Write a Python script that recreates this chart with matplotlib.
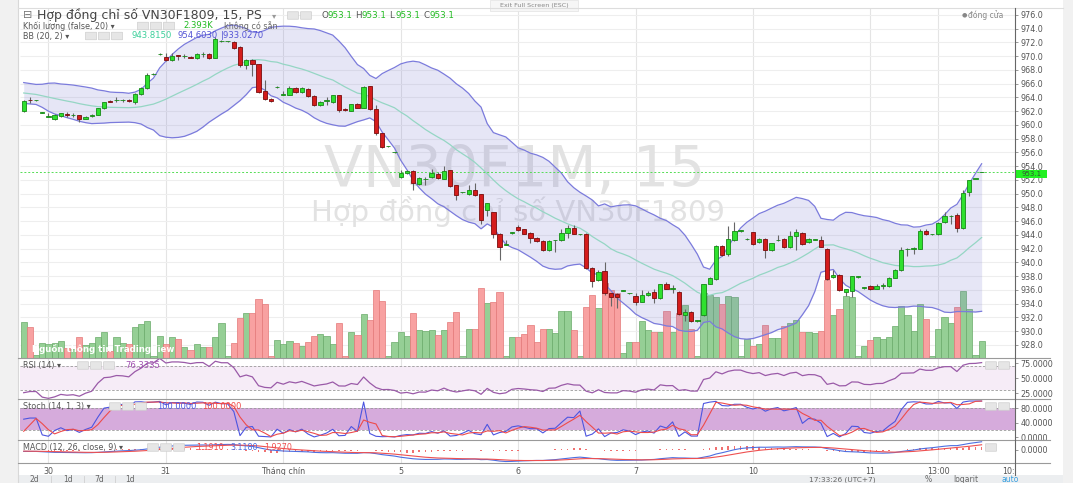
import matplotlib
matplotlib.use('Agg')
import matplotlib.pyplot as plt
from matplotlib.lines import Line2D
from matplotlib.patches import Rectangle, FancyBboxPatch
import numpy as np
import pandas as pd

plt.rcParams['font.family'] = ['DejaVu Sans']

W, H = 1073, 483

# closes of the session before the visible window (only used to warm up BB / RSI / MACD / Stoch)
prev_closes = [965.8, 965.6, 965.9, 965.4, 965.2, 965.5, 965.0, 964.8, 965.1, 964.6,
               964.4, 964.7, 964.2, 964.5, 964.0, 963.8, 964.1, 963.6, 963.4]

# 15-minute bars, VN30F1809
opens = [962.1, 963.7, 963.6, 961.8, 961.2, 960.8, 961.3, 961.6, 961.4, 961.4,
         960.9, 961.3, 961.45, 962.4, 963.5, 963.6, 963.6, 963.7, 963.4, 964.5,
         965.4, 967.4, 970.3, 969.9, 969.4, 970.15, 970.0, 969.9, 969.7, 970.3,
         970.3, 969.8, 972.2, 972.2, 972.1, 971.4, 968.7, 969.5, 968.8, 965.0,
         963.8, 965.5, 964.4, 964.4, 965.4, 964.8, 965.3, 964.2, 962.9, 963.55,
         963.3, 964.3, 962.3, 962.1, 963.0, 962.5, 965.6, 962.3, 958.8, 956.9,
         956.0, 952.4, 953.0, 953.3, 951.4, 952.1, 952.4, 952.9, 952.2, 953.4,
         951.2, 950.2, 949.9, 950.6, 949.9, 947.7, 947.3, 944.2, 942.6, 944.3,
         945.2, 944.8, 944.3, 943.6, 943.1, 941.8, 943.2, 943.2, 944.3, 945.0,
         944.1, 944.2, 939.2, 937.5, 938.8, 935.5, 935.4, 935.9, 935.5, 935.1,
         934.3, 935.2, 935.7, 934.8, 936.8, 936.2, 935.7, 932.3, 932.8, 931.5,
         932.4, 936.9, 937.6, 942.4, 941.2, 943.2, 944.6, 943.4, 944.4, 943.0,
         943.4, 941.8, 943.2, 943.4, 942.2, 943.9, 944.3, 943.0, 943.3, 943.3,
         942.0, 937.9, 938.2, 935.7, 935.9, 937.9, 936.3, 936.6, 936.2, 936.6,
         936.6, 937.8, 938.9, 941.9, 942.0, 942.0, 944.6, 944.1, 944.1, 945.9,
         946.7, 946.9, 945.0, 950.2, 952.2, 953.1]
highs = [963.7, 964.0, 963.7, 961.9, 961.7, 961.6, 961.8, 961.9, 961.75, 961.5,
         961.3, 961.6, 962.5, 963.4, 963.6, 964.0, 963.8, 963.8, 964.6, 965.5,
         967.6, 967.5, 970.4, 970.4, 970.5, 970.2, 970.3, 970.0, 970.4, 970.6,
         970.4, 972.8, 972.3, 972.2, 972.2, 971.5, 969.6, 969.6, 968.9, 966.6,
         963.9, 965.6, 964.9, 965.6, 965.5, 965.5, 965.4, 964.3, 963.5, 964.1,
         964.4, 964.4, 962.4, 963.1, 963.2, 965.6, 965.7, 962.9, 958.9, 957.0,
         956.1, 953.4, 953.4, 953.4, 952.4, 952.4, 953.6, 953.1, 954.0, 953.5,
         951.3, 950.3, 951.2, 951.6, 950.0, 948.7, 947.4, 944.3, 943.2, 944.4,
         945.5, 944.9, 944.4, 943.7, 943.2, 943.2, 943.3, 944.8, 945.5, 945.5,
         944.2, 944.3, 939.3, 938.9, 940.1, 935.6, 935.5, 936.0, 935.6, 935.6,
         936.0, 935.8, 936.1, 936.9, 937.2, 936.7, 935.8, 933.3, 932.9, 931.6,
         936.9, 937.9, 942.5, 942.5, 945.3, 945.9, 944.7, 943.5, 944.5, 943.5,
         943.5, 942.9, 944.0, 943.5, 944.6, 944.8, 944.4, 943.5, 943.4, 943.9,
         942.1, 938.9, 938.3, 936.2, 938.1, 938.0, 936.4, 936.7, 936.8, 937.0,
         937.9, 939.0, 942.2, 942.1, 942.2, 944.9, 944.9, 944.2, 945.9, 947.3,
         946.9, 947.2, 950.5, 952.0, 952.2, 953.1]
lows = [961.9, 963.2, 963.5, 961.7, 961.2, 960.7, 961.2, 961.1, 961.1, 960.4,
        960.8, 961.1, 961.4, 962.3, 963.3, 963.3, 963.4, 963.4, 963.0, 964.4,
        965.2, 967.3, 970.2, 969.3, 969.3, 969.4, 969.7, 969.7, 969.6, 969.9,
        969.6, 969.7, 972.1, 972.1, 971.1, 968.5, 968.1, 967.1, 964.6, 963.6,
        963.4, 965.4, 964.3, 964.3, 964.7, 964.7, 964.1, 962.8, 962.8, 962.9,
        963.2, 961.9, 962.1, 962.0, 962.4, 962.4, 962.2, 958.6, 956.7, 956.8,
        955.9, 952.3, 952.9, 950.6, 951.2, 951.3, 952.3, 952.2, 952.1, 951.0,
        949.1, 950.1, 949.8, 949.7, 945.6, 946.8, 943.5, 940.4, 942.5, 944.2,
        944.6, 944.1, 942.9, 943.0, 941.6, 941.7, 941.5, 943.1, 943.6, 944.1,
        944.0, 939.0, 936.5, 937.3, 935.3, 933.6, 933.4, 935.8, 935.4, 933.8,
        934.2, 935.1, 934.1, 934.7, 936.1, 935.5, 932.3, 931.5, 931.3, 931.4,
        932.2, 936.8, 937.5, 940.9, 941.0, 943.1, 944.5, 943.3, 942.6, 942.9,
        940.7, 941.7, 943.1, 942.1, 942.1, 941.8, 942.6, 942.9, 943.2, 942.2,
        937.4, 937.8, 935.9, 935.1, 935.0, 937.8, 936.2, 936.0, 936.1, 936.2,
        936.5, 937.7, 938.8, 941.0, 941.2, 941.9, 944.0, 944.0, 944.0, 945.8,
        945.6, 944.4, 944.9, 949.6, 952.2, 953.1]
closes = [963.5, 963.6, 963.6, 961.9, 961.3, 961.45, 961.7, 961.4, 961.45, 960.9,
          961.2, 961.4, 962.4, 963.3, 963.4, 963.7, 963.65, 963.5, 964.5, 965.4,
          967.3, 967.4, 970.3, 969.4, 970.1, 970.1, 970.0, 969.8, 970.3, 970.35,
          969.7, 972.5, 972.2, 972.2, 971.2, 968.7, 969.4, 968.8, 964.85, 963.8,
          963.5, 965.5, 964.45, 965.4, 964.8, 965.4, 964.2, 962.9, 963.3, 963.6,
          964.3, 962.2, 962.15, 963.0, 962.5, 965.5, 962.3, 958.8, 956.85, 956.9,
          956.0, 953.0, 953.3, 951.6, 952.3, 952.2, 953.0, 952.3, 953.3, 951.1,
          949.8, 950.2, 950.6, 949.8, 946.2, 948.6, 944.2, 942.2, 942.6, 944.3,
          944.7, 944.2, 943.5, 943.1, 941.75, 943.1, 943.2, 944.3, 945.0, 944.2,
          944.1, 939.2, 937.3, 938.6, 935.5, 935.0, 935.0, 935.9, 935.5, 934.3,
          935.2, 935.5, 934.8, 936.8, 936.2, 936.25, 932.5, 932.8, 931.5, 931.5,
          936.8, 937.7, 942.4, 941.1, 943.4, 944.6, 944.6, 943.4, 942.7, 943.4,
          941.8, 942.8, 943.3, 942.2, 943.8, 944.4, 942.7, 943.4, 943.3, 942.3,
          937.55, 938.2, 936.0, 936.1, 938.0, 937.9, 936.3, 936.1, 936.6, 936.65,
          937.8, 938.9, 941.8, 941.95, 942.05, 944.6, 944.1, 944.1, 945.8, 946.7,
          946.75, 945.0, 950.1, 952.0, 952.2, 953.1]
# volume, thousand contracts
volumes = [5.1, 4.3, 0.3, 2.05, 1.9, 2.05, 2.3, 1.4, 1.2, 2.9,
           1.8, 2.05, 3.0, 3.6, 0.9, 3.0, 2.1, 1.9, 4.4, 4.8,
           5.2, 0.2, 3.1, 2.0, 3.0, 2.6, 1.5, 1.05, 1.9, 1.5,
           1.5, 3.0, 4.9, 0.2, 2.1, 5.7, 6.3, 6.3, 8.4, 7.6,
           0.25, 2.5, 1.9, 2.3, 2.1, 1.7, 2.2, 3.1, 3.3, 3.1,
           1.9, 4.9, 0.2, 3.6, 3.2, 6.2, 5.3, 9.6, 8.1, 0.2,
           2.2, 3.7, 3.05, 6.4, 4.0, 3.8, 3.9, 3.2, 4.0, 5.1,
           6.5, 0.2, 4.1, 4.1, 9.9, 7.8, 7.9, 9.4, 0.2, 2.9,
           3.0, 3.4, 4.6, 2.2, 4.1, 4.05, 3.5, 6.7, 6.7, 4.0,
           0.2, 7.2, 9.0, 7.1, 10.6, 9.6, 9.2, 0.6, 2.2, 2.2,
           5.2, 4.0, 3.6, 3.6, 6.7, 3.7, 6.3, 7.5, 4.1, 0.2,
           9.2, 8.9, 8.6, 7.7, 8.8, 8.6, 0.2, 2.6, 1.6, 1.9,
           4.6, 2.8, 2.8, 4.5, 4.9, 5.3, 3.7, 3.7, 3.5, 3.8,
           11.1, 6.1, 6.9, 8.8, 8.6, 0.2, 1.6, 2.5, 3.0, 2.6,
           2.9, 4.5, 7.3, 6.1, 3.8, 7.7, 5.5, 0.2, 4.1, 5.8,
           5.0, 7.2, 9.5, 7.0, 0.3, 2.393]

# time axis: bar index of each label
time_ticks = [4, 23, 42, 61, 80, 99, 118, 137, 148, 159.3]
time_labels = ['30', '31', 'Tháng chín', '5', '6', '7', '10', '11', '13:00', '10:']
price_ticks = np.arange(928, 977, 2)

# indicator values as printed in the legends
bb_values = ['943.8150', '954.6030', '933.0270']
rsi_value = '76.3335'
stoch_values = ['100.0000', '100.0000']
macd_values = ['1.1910', '3.1180', '1.9270']

# ---- indicators ----
n_prev = len(prev_closes)
c_all = pd.Series(prev_closes + closes)
h_all = pd.Series(prev_closes + highs)
l_all = pd.Series(prev_closes + lows)

bb_mid = c_all.rolling(20).mean()
bb_sd = c_all.rolling(20).std(ddof=0)
bb_up = (bb_mid + 2 * bb_sd).values[n_prev:]
bb_lo = (bb_mid - 2 * bb_sd).values[n_prev:]
bb_mid = bb_mid.values[n_prev:]

delta = c_all.diff()
gain = delta.clip(lower=0).ewm(alpha=1 / 14, adjust=False).mean()
loss = (-delta.clip(upper=0)).ewm(alpha=1 / 14, adjust=False).mean()
rsi = (100 - 100 / (1 + gain / loss)).values[n_prev:]

hh = h_all.rolling(14, min_periods=1).max()
ll = l_all.rolling(14, min_periods=1).min()
stoch_k = 100 * (c_all - ll) / (hh - ll)
stoch_d = stoch_k.rolling(3, min_periods=1).mean()
stoch_k = stoch_k.values[n_prev:]
stoch_d = stoch_d.values[n_prev:]

macd = c_all.ewm(span=12, adjust=False).mean() - c_all.ewm(span=26, adjust=False).mean()
signal = macd.ewm(span=9, adjust=False).mean()
hist = (macd - signal).values[n_prev:]
macd = macd.values[n_prev:]
signal = signal.values[n_prev:]

# ---- figure / layout (pixel helpers) ----
fig = plt.figure(figsize=(W / 100, H / 100), dpi=100)
fig.patch.set_facecolor('white')


def fx(x):
    return x / W


def fy(y):
    return 1 - y / H


def box(x0, y0, x1, y1):
    return [fx(x0), fy(y1), (x1 - x0) / W, (y1 - y0) / H]


def ftext(x, y, s, **kw):
    kw.setdefault('va', 'center')
    kw.setdefault('fontsize', 6)
    kw.setdefault('color', '#555555')
    fig.text(fx(x), fy(y), s, **kw)


def fline(xs, ys, **kw):
    fig.add_artist(Line2D([fx(v) for v in xs], [fy(v) for v in ys], **kw))


def icons(x, y, n):
    for k in range(n):
        fig.add_artist(FancyBboxPatch((fx(x + k * 13), fy(y + 3.5)), 10 / W, 7 / H,
                                      boxstyle='round,pad=0.0005', fc='#e6e6e6', ec='#cfcfcf',
                                      lw=0.5, transform=fig.transFigure))


X0, X1 = 20, 1015
ax_vol = fig.add_axes(box(X0, 7.5, X1, 357.5))
ax = fig.add_axes(box(X0, 7.5, X1, 357.5), sharex=ax_vol)
ax.set_facecolor('none')
ax_rsi = fig.add_axes(box(X0, 357.5, X1, 399.3), sharex=ax_vol)
ax_sto = fig.add_axes(box(X0, 399.3, X1, 440), sharex=ax_vol)
ax_macd = fig.add_axes(box(X0, 440, X1, 463), sharex=ax_vol)

x = np.arange(len(closes))
o = np.array(opens)
c = np.array(closes)
up = c >= o

for a in (ax_vol, ax, ax_rsi, ax_sto, ax_macd):
    for s in a.spines.values():
        s.set_visible(False)
    a.tick_params(axis='x', length=0, labelbottom=False)
    a.set_xlim(-0.6, 160.4)

# day separators
for a in (ax_vol, ax_rsi, ax_sto, ax_macd):
    for t in time_ticks[:-1]:
        a.axvline(t, color='#e4e4e4', lw=0.8, zorder=0)

# price grid + volume + watermark (bottom layer)
ax.set_ylim(926.18, 977.09)
ax_vol.set_ylim(0, 50)
ax_vol.set_yticks([])
ax_vol.hlines(price_ticks, 0, 1, transform=ax.get_yaxis_transform(), color='#eeeeee', lw=0.8, zorder=0)
ax_vol.bar(x[up], np.array(volumes)[up], width=1.0, color='#95cf95', edgecolor='#6aab6a', lw=0.5, zorder=2)
ax_vol.bar(x[~up], np.array(volumes)[~up], width=1.0, color='#f8a1a1', edgecolor='#e47878', lw=0.5, zorder=2)
ax_vol.text(fx(515), fy(187), 'VN30F1M, 15', transform=fig.transFigure, ha='center', va='baseline',
            fontsize=41, color='#e2e2e2', zorder=0.5)
ax_vol.text(fx(518), fy(221), 'Hợp đồng chỉ số VN30F1809', transform=fig.transFigure, ha='center',
            va='baseline', fontsize=21, color='#e2e2e2', zorder=0.5)
ax_vol.text(fx(32), fy(349), 'Nguồn thông tin TradingView', transform=fig.transFigure, ha='left',
            va='center', fontsize=6.2, color='white', fontweight='bold', zorder=5)

# main price panel
ax.fill_between(x, bb_lo, bb_up, color=(0.47, 0.47, 0.82), alpha=0.18, lw=0, zorder=1)
ax.plot(x, bb_up, color='#7b7bdc', lw=0.9, zorder=2)
ax.plot(x, bb_lo, color='#7b7bdc', lw=0.9, zorder=2)
ax.plot(x, bb_mid, color='#95d6c4', lw=0.9, zorder=2)
ax.axhline(closes[-1], color='#55dd55', lw=0.7, ls=(0, (2, 2)), zorder=2)

ax.vlines(x, lows, highs, color='#666666', lw=0.8, zorder=3)
body_lo = np.minimum(o, c)
body_h = np.maximum(np.abs(c - o), 0.08)
ax.bar(x[up], body_h[up], bottom=body_lo[up], width=0.7, color='#2fe02f', edgecolor='#168a16', lw=0.6, zorder=4)
ax.bar(x[~up], body_h[~up], bottom=body_lo[~up], width=0.7, color='#d41c1c', edgecolor='#7a0c0c', lw=0.6, zorder=4)

ax.yaxis.tick_right()
ax.set_yticks(price_ticks)
ax.set_yticklabels([f'{p:.1f}' for p in price_ticks])
ax.tick_params(axis='y', length=2.5, width=0.6, color='#888888', pad=1.5, labelsize=5.8, labelcolor='#555555')

# RSI
ax_rsi.set_ylim(14.5, 84.5)
ax_rsi.axhspan(30, 70, color='#f6ecf7', lw=0, zorder=0.2)
ax_rsi.axhline(70, color='#9a9a9a', lw=0.6, ls=(0, (3, 2)))
ax_rsi.axhline(30, color='#9a9a9a', lw=0.6, ls=(0, (3, 2)))
ax_rsi.plot(x, rsi, color='#9a5aa8', lw=0.9)
ax_rsi.yaxis.tick_right()
ax_rsi.set_yticks([25, 50, 75])
ax_rsi.set_yticklabels(['25.0000', '50.0000', '75.0000'])

# Stoch
ax_sto.set_ylim(-7.4, 104.8)
ax_sto.axhspan(20, 80, color='#d6abdc', lw=0, zorder=0.2)
ax_sto.axhline(80, color='#9a9a9a', lw=0.6, ls=(0, (3, 2)))
ax_sto.axhline(20, color='#9a9a9a', lw=0.6, ls=(0, (3, 2)))
ax_sto.plot(x, stoch_k, color='#4d55e0', lw=0.8)
ax_sto.plot(x, stoch_d, color='#ee4b4b', lw=0.8)
ax_sto.yaxis.tick_right()
ax_sto.set_yticks([0, 40, 80])
ax_sto.set_yticklabels(['0.0000', '40.0000', '80.0000'])

# MACD
ax_macd.set_ylim(-4.9, 3.76)
ax_macd.bar(x, hist, width=0.25, color='#f07070', zorder=2)
ax_macd.plot(x, macd, color='#4d6ee0', lw=0.8)
ax_macd.plot(x, signal, color='#ee5050', lw=0.8)
ax_macd.yaxis.tick_right()
ax_macd.set_yticks([0])
ax_macd.set_yticklabels(['0.0000'])

for a in (ax_rsi, ax_sto, ax_macd):
    a.tick_params(axis='y', length=2.5, width=0.6, color='#888888', pad=1.5, labelsize=5.8, labelcolor='#555555')

ax_macd.set_xticks(time_ticks)
ax_macd.set_xticklabels(time_labels)
ax_macd.tick_params(axis='x', labelbottom=True, length=0, pad=3, labelsize=5.8, labelcolor='#555555')

# ---- frame, margins, toolbars ----
fig.add_artist(Rectangle((0, 0), fx(18), 1, transform=fig.transFigure, fc='#f1f1f1', ec='none', zorder=-1))
fig.add_artist(Rectangle((fx(1063), 0), 1 - fx(1063), 1, transform=fig.transFigure, fc='#f1f1f1', ec='none', zorder=-1))
fig.add_artist(Rectangle((fx(18), 0), fx(1063) - fx(18), 8 / H, transform=fig.transFigure,
                         fc='#eceef0', ec='none'))
fline([18, 18], [0, 483], color='#d8d8d8', lw=0.8)
fline([18, 1063], [7.5, 7.5], color='#dddddd', lw=0.8)
for yy in (357.5, 399.3, 440, 463):
    fline([18, 1050], [yy, yy], color='#9a9a9a', lw=0.8)
fline([X1, X1], [7.5, 475], color='#666666', lw=0.8)

# last-price tag
fig.add_artist(Rectangle((fx(1016), fy(177.5)), 31 / W, 7.5 / H, transform=fig.transFigure,
                         fc='#22f022', ec='none'))
ftext(1031.5, 173.8, f'{closes[-1]:.1f}', ha='center', fontsize=5.0, color='#335533')

# header legend
ftext(23, 15.5, '⊟', fontsize=8, color='#777777')
ftext(37, 15.5, 'Hợp đồng chỉ số VN30F1809, 15, PS', fontsize=9, color='#444444')
ftext(272, 15.5, '▾', fontsize=6, color='#999999')
icons(288, 15.5, 2)
for lab, xl in zip(['O', 'H', 'L', 'C'], [321, 355, 389, 423]):
    ftext(xl, 15.5, lab, fontsize=6.3, color='#555555')
    ftext(xl + 7, 15.5, f'{closes[-1]:.1f}', fontsize=6.3, color='#22bb22')

ftext(23, 26, 'Khối lượng (false, 20) ▾', fontsize=5.8)
icons(138, 26, 3)
ftext(183, 26, f'{volumes[-1]:.3f}K', fontsize=6.1, color='#22bb22')
ftext(224, 26, 'không có sẵn', fontsize=5.8, color='#666666')

ftext(23, 36, 'BB (20, 2) ▾', fontsize=5.8)
icons(86, 36, 3)
ftext(132, 36, bb_values[0], fontsize=6.1, color='#3ccf9a')
ftext(178, 36, bb_values[1], fontsize=6.1, color='#5555d5')
ftext(221, 36, '|' + bb_values[2], fontsize=6.1, color='#5555d5')

ftext(962, 15, '●', fontsize=4.5, color='#888888')
ftext(968, 15, 'đóng cửa', fontsize=5.5, color='#888888')

fig.add_artist(Rectangle((fx(490), fy(11)), 88 / W, 11 / H, transform=fig.transFigure,
                         fc='#f6f6f6', ec='#e2e2e2', lw=0.5))
ftext(534, 5.5, 'Exit Full Screen (ESC)', ha='center', fontsize=4.6, color='#888888')

# indicator legends
ftext(23, 365.5, 'RSI (14) ▾', fontsize=5.8)
icons(78, 365.5, 3)
ftext(125, 365.5, rsi_value, fontsize=6.1, color='#a050b0')

ftext(23, 406.5, 'Stoch (14, 1, 3) ▾', fontsize=5.8)
icons(110, 406.5, 3)
ftext(157, 406.5, stoch_values[0], fontsize=6.0, color='#4d55e0')
ftext(202, 406.5, stoch_values[1], fontsize=6.0, color='#ee4b4b')

ftext(23, 447.5, 'MACD (12, 26, close, 9) ▾', fontsize=5.8)
icons(148, 447.5, 3)
ftext(196, 447.5, macd_values[0], fontsize=5.8, color='#ee5050')
ftext(230, 447.5, macd_values[1], fontsize=5.8, color='#4d6ee0')
ftext(264, 447.5, macd_values[2], fontsize=5.8, color='#ee5050')

for yy in (365.5, 406.5, 447.5):
    icons(986, yy, 2 if yy < 440 else 1)

# bottom toolbar
for lab, xl in zip(['2d', '1d', '7d', '1d'], [34, 68, 99, 130]):
    ftext(xl, 479.5, lab, ha='center', fontsize=5.5, color='#666666')
for xs in (51, 84, 115):
    fline([xs, xs], [476, 483], color='#d0d0d0', lw=0.6)
ftext(842, 479.5, '17:33:26 (UTC+7)', ha='center', fontsize=5.3, color='#666666')
ftext(928, 479.5, '%', ha='center', fontsize=5.5, color='#666666')
ftext(966, 479.5, 'logarit', ha='center', fontsize=5.5, color='#666666')
ftext(1010, 479.5, 'auto', ha='center', fontsize=5.5, color='#3aa0e0')

plt.savefig('out.png', dpi=100, facecolor='white')
print("saved out.png")
